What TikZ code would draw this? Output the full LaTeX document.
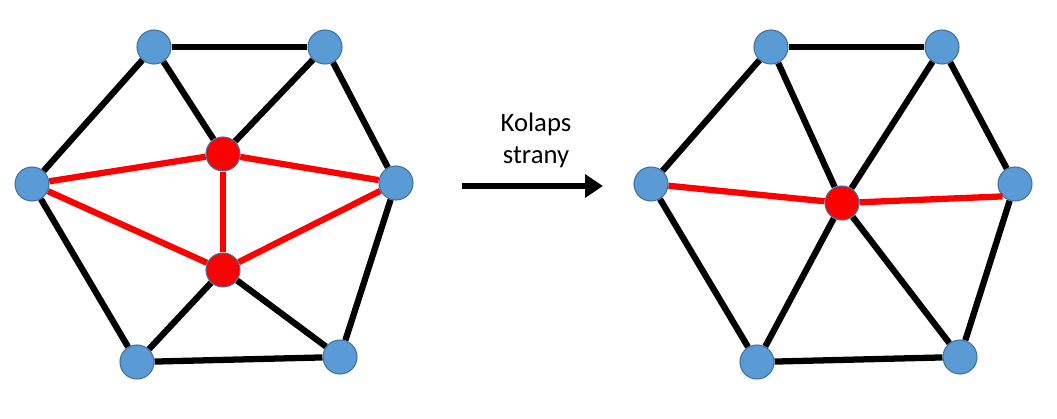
\documentclass[tikz,border=0pt]{standalone}
\usepackage{fontspec}
\setmainfont{Carlito}
\usepackage{xcolor}
\usepackage{tikz}
\usetikzlibrary{arrows.meta,backgrounds}

\definecolor{vblue}{HTML}{5B9BD5}
\definecolor{vborder}{HTML}{41719C}

\begin{document}
\begin{tikzpicture}[%
  x=0.75pt, y=-0.75pt,
  vert/.style={circle, draw=vborder, line width=0.8pt, fill=vblue,
    minimum size=25.5pt, inner sep=0pt},
  redvert/.style={vert, fill=red},
  edge/.style={line width=4.7pt, black},
  redge/.style={line width=4.7pt, red}]
  \useasboundingbox (0,0) rectangle (1057,418);

  % puvodni sit
  \node[vert] (a1) at (154,47) {};
  \node[vert] (a2) at (325,47) {};
  \node[vert] (a3) at (32,184) {};
  \node[vert] (a4) at (396,183) {};
  \node[vert] (a5) at (137,362) {};
  \node[vert] (a6) at (340,357) {};
  \node[redvert] (p) at (223,154) {};
  \node[redvert] (q) at (223,270) {};
  \begin{pgfonlayer}{background}
    \draw[edge] (a1) -- (a2);
    \draw[edge] (a1) -- (a3);
    \draw[edge] (a1) -- (p);
    \draw[edge] (a2) -- (p);
    \draw[edge] (a2) -- (a4);
    \draw[edge] (a3) -- (a5);
    \draw[edge] (a4) -- (a6);
    \draw[edge] (a5) -- (a6);
    \draw[edge] (a5) -- (q);
    \draw[edge] (a6) -- (q);
    \draw[redge] (a3) -- (p);
    \draw[redge] (a3) -- (q);
    \draw[redge] (p) -- (q);
    \draw[redge] (p) -- (a4);
    \draw[redge] (q) -- (a4);
  \end{pgfonlayer}

  % sipka
  \coordinate (s1) at (462,186);
  \coordinate (s2) at (603,186);
  \draw[line width=4.2pt, -{Triangle[length=13.5pt, width=17pt]}] (s1) -- (s2);
  \node[font=\fontsize{20pt}{24pt}\selectfont, align=center] (lbl) at (536,140) {Kolaps\\strany};

  % po kolapsu
  \node[vert] (b1) at (771,47) {};
  \node[vert] (b2) at (942,47) {};
  \node[vert] (b3) at (651,184) {};
  \node[vert] (b4) at (1015,184) {};
  \node[vert] (b5) at (757,362) {};
  \node[vert] (b6) at (960,357) {};
  \node[redvert] (c) at (842,203) {};
  \begin{pgfonlayer}{background}
    \draw[edge] (b1) -- (b2);
    \draw[edge] (b1) -- (b3);
    \draw[edge] (b1) -- (c);
    \draw[edge] (b2) -- (c);
    \draw[edge] (b2) -- (b4);
    \draw[edge] (b3) -- (b5);
    \draw[edge] (b4) -- (b6);
    \draw[edge] (b5) -- (b6);
    \draw[edge] (b5) -- (c);
    \draw[edge] (b6) -- (c);
    \draw[redge] (b3) -- (c);
  \end{pgfonlayer}
  \draw[redge] (c) -- (b4.south west);
\end{tikzpicture}
\end{document}
